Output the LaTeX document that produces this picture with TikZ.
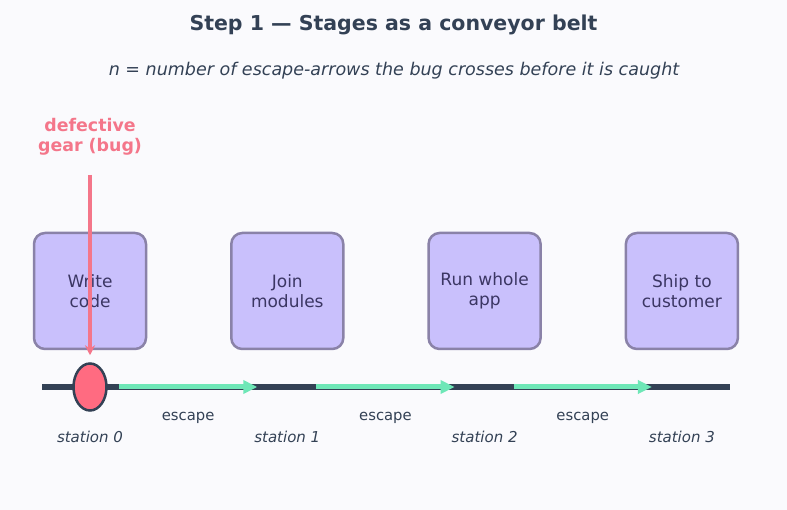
\documentclass[tikz,border=0pt]{standalone}
\usepackage{fontspec}
\setmainfont{DejaVu Sans}
\usepackage{xcolor}
\usepackage{tikz}
\usetikzlibrary{arrows.meta,positioning,shapes.geometric}

\definecolor{bgpaper}{HTML}{FAFAFD}
\definecolor{slate}{HTML}{334155}
\definecolor{lav}{HTML}{C9C0FC}
\definecolor{lavedge}{HTML}{8A82A8}
\definecolor{inktext}{HTML}{3B3663}
\definecolor{bugred}{HTML}{F4768A}
\definecolor{bugfill}{HTML}{FF6B81}
\definecolor{escgreen}{HTML}{6EE7B7}

\begin{document}
\begin{tikzpicture}[x=1pt,y=-1pt,
  stage/.style={draw=lavedge,line width=2.5pt,rounded corners=11pt,fill=lav,
    minimum width=112pt,minimum height=116pt,align=center,text=inktext,
    font=\fontsize{17}{20}\selectfont},
  belt/.style={slate,line width=6pt},
  escape/.style={-{Triangle[length=14pt,width=13pt]},escgreen,line width=5pt},
  esclabel/.style={text=slate,font=\fontsize{14.8}{17}\selectfont},
  stlabel/.style={text=slate,font=\fontsize{15}{17}\itshape},
  bugmark/.style={ellipse,draw=slate,line width=2.5pt,fill=bugfill,
    minimum width=33pt,minimum height=47pt,inner sep=0pt},
  bugarrow/.style={-{Stealth[length=10pt,width=10pt]},bugred,line width=3.5pt}
]
  \fill[bgpaper] (0,0) rectangle (787,510);
  \useasboundingbox (0,0) rectangle (787,510);

  \node[text=slate,font=\fontsize{20.5}{24}\bfseries] (title) at (393.5,25)
    {Step 1 — Stages as a conveyor belt};
  \node[text=slate,font=\fontsize{17.5}{20}\itshape] (subtitle) at (394,71)
    {n = number of escape-arrows the bug crosses before it is caught};

  \node[stage] (write) at (90,291) {Write\\code};
  \node[stage,right=82.8pt of write] (join) {Join\\modules};
  \node[stage,right=82.8pt of join]  (run)  {Run whole\\app};
  \node[stage,right=82.8pt of run]   (ship) {Ship to\\customer};

  % belt and stations
  \coordinate (beltstart) at (42,387);
  \coordinate (beltend) at (730,387);
  \draw[belt] (beltstart) -- (beltend);
  \coordinate (st0) at (write |- 0,387);
  \coordinate (st1) at (join |- 0,387);
  \coordinate (st2) at (run |- 0,387);
  \coordinate (st3) at (ship |- 0,387);

  \draw[escape] ([xshift=29pt]st0) -- node[esclabel,yshift=-31pt]{escape} ([xshift=-30pt]st1);
  \draw[escape] ([xshift=29pt]st1) -- node[esclabel,yshift=-31pt]{escape} ([xshift=-30pt]st2);
  \draw[escape] ([xshift=29pt]st2) -- node[esclabel,yshift=-31pt]{escape} ([xshift=-30pt]st3);

  \node[stlabel] (lab0) at (write |- 0,437) {station 0};
  \node[stlabel] (lab1) at (join |- 0,437)  {station 1};
  \node[stlabel] (lab2) at (run |- 0,437)   {station 2};
  \node[stlabel] (lab3) at (ship |- 0,437)  {station 3};

  % the bug
  \node[bugmark] (bug) at (st0) {};
  \node[align=center,text=bugred,font=\fontsize{17.4}{20}\bfseries] (bugtxt)
    at (90,137) {defective\\gear (bug)};
  \coordinate (bugtop) at (90,175);
  \draw[bugarrow] (bugtop) -- ([yshift=7pt]bug.north);
\end{tikzpicture}
\end{document}
